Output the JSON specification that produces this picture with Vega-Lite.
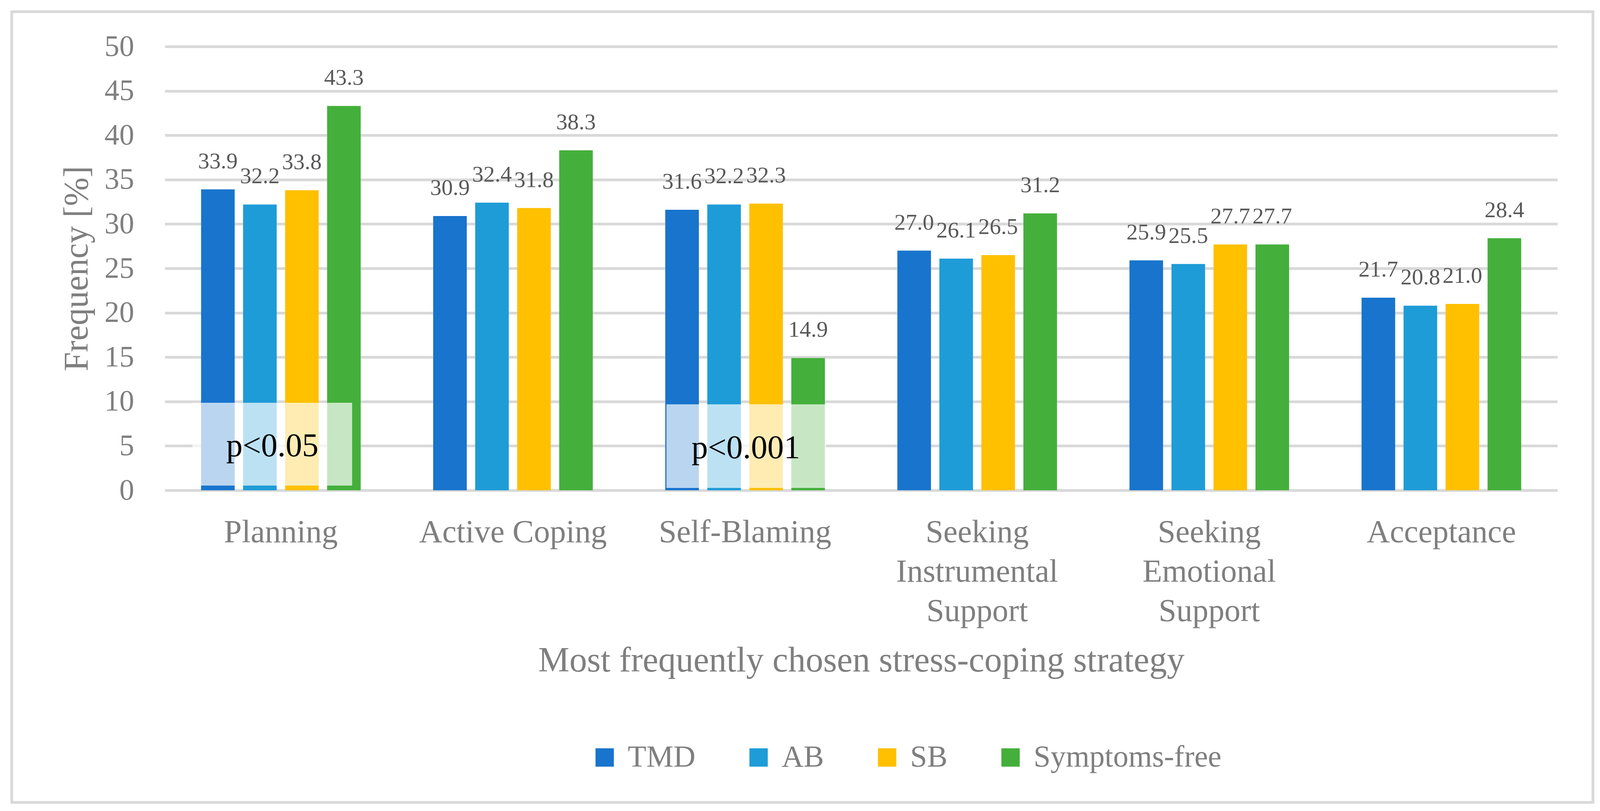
{
  "$schema": "https://vega.github.io/schema/vega-lite/v6.json",
  "width": 4048,
  "height": 2024,
  "autosize": {"type": "none"},
  "padding": {"left": 30, "top": 30, "right": 24, "bottom": 22},
  "background": "white",
  "config": {
    "view": {"stroke": "#d9d9d9", "strokeWidth": 7},
    "font": "Liberation Serif",
    "text": {"font": "Liberation Serif"}
  },
  "datasets": {
    "freq": [
      {"strategy": "Planning", "group": "TMD", "value": 33.9},
      {"strategy": "Planning", "group": "AB", "value": 32.2},
      {"strategy": "Planning", "group": "SB", "value": 33.8},
      {"strategy": "Planning", "group": "Symptoms-free", "value": 43.3},
      {"strategy": "Active Coping", "group": "TMD", "value": 30.9},
      {"strategy": "Active Coping", "group": "AB", "value": 32.4},
      {"strategy": "Active Coping", "group": "SB", "value": 31.8},
      {"strategy": "Active Coping", "group": "Symptoms-free", "value": 38.3},
      {"strategy": "Self-Blaming", "group": "TMD", "value": 31.6},
      {"strategy": "Self-Blaming", "group": "AB", "value": 32.2},
      {"strategy": "Self-Blaming", "group": "SB", "value": 32.3},
      {"strategy": "Self-Blaming", "group": "Symptoms-free", "value": 14.9},
      {"strategy": "Seeking Instrumental Support", "group": "TMD", "value": 27.0},
      {"strategy": "Seeking Instrumental Support", "group": "AB", "value": 26.1},
      {"strategy": "Seeking Instrumental Support", "group": "SB", "value": 26.5},
      {"strategy": "Seeking Instrumental Support", "group": "Symptoms-free", "value": 31.2},
      {"strategy": "Seeking Emotional Support", "group": "TMD", "value": 25.9},
      {"strategy": "Seeking Emotional Support", "group": "AB", "value": 25.5},
      {"strategy": "Seeking Emotional Support", "group": "SB", "value": 27.7},
      {"strategy": "Seeking Emotional Support", "group": "Symptoms-free", "value": 27.7},
      {"strategy": "Acceptance", "group": "TMD", "value": 21.7},
      {"strategy": "Acceptance", "group": "AB", "value": 20.8},
      {"strategy": "Acceptance", "group": "SB", "value": 21.0},
      {"strategy": "Acceptance", "group": "Symptoms-free", "value": 28.4}
    ]
  },
  "data": {"name": "freq"},
  "encoding": {
    "x": {
      "field": "strategy",
      "type": "nominal",
      "sort": ["Planning", "Active Coping", "Self-Blaming", "Seeking Instrumental Support", "Seeking Emotional Support", "Acceptance"],
      "scale": {"range": [392, 3957], "paddingInner": 0.276, "paddingOuter": 0.138},
      "axis": {
        "orient": "bottom",
        "offset": -799,
        "domain": false,
        "ticks": false,
        "grid": false,
        "labelAngle": 0,
        "labelFont": "Liberation Serif",
        "labelFontSize": 82,
        "labelColor": "#7f7f7f",
        "labelPadding": 67,
        "labelLineHeight": 101,
        "labelLimit": 2000,
        "labelExpr": "datum.value == 'Seeking Instrumental Support' ? ['Seeking', 'Instrumental', 'Support'] : datum.value == 'Seeking Emotional Support' ? ['Seeking', 'Emotional', 'Support'] : datum.label",
        "title": "Most frequently chosen stress-coping strategy",
        "titleFont": "Liberation Serif",
        "titleFontSize": 90,
        "titleFontWeight": "normal",
        "titleColor": "#7f7f7f",
        "titlePadding": 192,
        "titleLimit": 4000
      }
    },
    "y": {
      "field": "value",
      "type": "quantitative",
      "scale": {"domain": [0, 50], "range": [1225, 89], "nice": false},
      "axis": {
        "orient": "left",
        "offset": -392,
        "values": [0, 5, 10, 15, 20, 25, 30, 35, 40, 45, 50],
        "domain": false,
        "ticks": false,
        "grid": true,
        "gridColor": "#d9d9d9",
        "gridWidth": 7,
        "labelFont": "Liberation Serif",
        "labelFontSize": 76,
        "labelColor": "#7f7f7f",
        "labelPadding": 79,
        "title": "Frequency [%]",
        "titleFont": "Liberation Serif",
        "titleFontSize": 88,
        "titleFontWeight": "normal",
        "titleColor": "#7f7f7f",
        "titlePadding": 26
      }
    }
  },
  "layer": [
    {
      "mark": {"type": "bar"},
      "encoding": {
        "xOffset": {
          "field": "group",
          "type": "nominal",
          "sort": ["TMD", "AB", "SB", "Symptoms-free"],
          "scale": {"paddingInner": 0.2, "paddingOuter": 0.1}
        },
        "color": {
          "field": "group",
          "type": "nominal",
          "sort": ["TMD", "AB", "SB", "Symptoms-free"],
          "scale": {"domain": ["TMD", "AB", "SB", "Symptoms-free"], "range": ["#1874CD", "#1E9CD7", "#FFC000", "#44AF3B"]},
          "legend": {
            "orient": "none",
            "legendX": 1479,
            "legendY": 1870,
            "direction": "horizontal",
            "title": null,
            "symbolType": "square",
            "symbolSize": 2209,
            "symbolStrokeWidth": 0,
            "symbolOpacity": 1,
            "labelFont": "Liberation Serif",
            "labelFontSize": 78,
            "labelColor": "#7f7f7f",
            "labelOffset": 20,
            "labelLimit": 2000,
            "columnPadding": 122,
            "padding": 0
          }
        }
      }
    },
    {
      "data": {"values": [{"strategy": "Planning", "value": 9.86, "value2": 0.53}]},
      "mark": {"type": "bar", "color": "white", "opacity": 0.7, "width": {"band": 0.95}, "xOffset": -22},
      "encoding": {"y2": {"field": "value2"}}
    },
    {
      "data": {"values": [{"strategy": "Self-Blaming", "value": 9.68, "value2": 0.26}]},
      "mark": {"type": "bar", "color": "white", "opacity": 0.7, "width": {"band": 0.95}, "xOffset": 3},
      "encoding": {"y2": {"field": "value2"}}
    },
    {
      "data": {"values": [{"strategy": "Planning", "value": 3.83, "note": "p<0.05"}]},
      "mark": {"type": "text", "font": "Liberation Serif", "fontSize": 84, "color": "black", "baseline": "alphabetic", "xOffset": -22},
      "encoding": {"text": {"field": "note"}}
    },
    {
      "data": {"values": [{"strategy": "Self-Blaming", "value": 3.6, "note": "p<0.001"}]},
      "mark": {"type": "text", "font": "Liberation Serif", "fontSize": 84, "color": "black", "baseline": "alphabetic", "xOffset": 2},
      "encoding": {"text": {"field": "note"}}
    },
    {
      "mark": {"type": "text", "font": "Liberation Serif", "fontSize": 58, "color": "#595959", "baseline": "alphabetic", "dy": -54},
      "encoding": {
        "xOffset": {"field": "group", "type": "nominal", "sort": ["TMD", "AB", "SB", "Symptoms-free"]},
        "text": {"field": "value", "type": "quantitative", "format": ".1f"}
      }
    }
  ]
}
